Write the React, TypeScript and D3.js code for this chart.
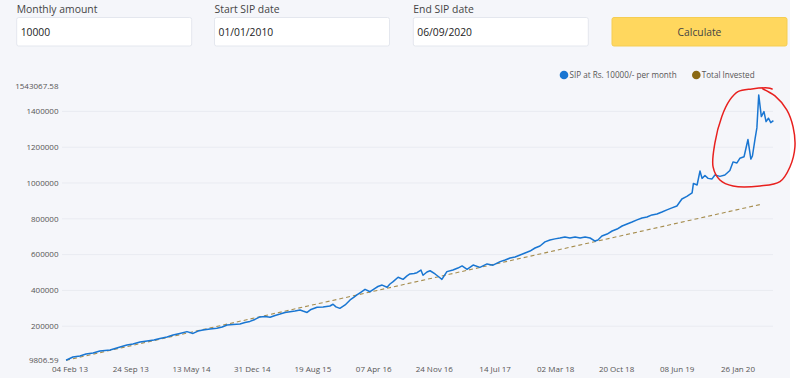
import React from 'react';
import * as d3 from 'd3';

const formLabels = ['Monthly amount', 'Start SIP date', 'End SIP date'];
const formValues = ['10000', '01/01/2010', '06/09/2020'];
const buttonLabel = 'Calculate';
const legendLabels = ['SIP at Rs. 10000/- per month', 'Total Invested'];

const yTickValues = [9806.59, 200000, 400000, 600000, 800000, 1000000, 1200000, 1400000, 1543067.58];
const xTickDates = [
  '2013-02-04', '2013-09-24', '2014-05-13', '2014-12-31', '2015-08-19', '2016-04-07',
  '2016-11-24', '2017-07-14', '2018-03-02', '2018-10-20', '2019-06-08', '2020-01-26',
];

const sipDates = [
  '2013-01-20','2013-02-15','2013-03-14','2013-04-06','2013-05-03','2013-05-29','2013-07-07','2013-08-14',
  '2013-09-09','2013-10-02','2013-10-29','2013-11-25','2013-12-21','2014-01-13','2014-02-09','2014-03-04',
  '2014-03-30','2014-04-26','2014-05-19','2014-06-07','2014-06-26','2014-07-23','2014-08-18','2014-09-07',
  '2014-09-26','2014-10-19','2014-11-14','2014-12-03','2014-12-22','2015-01-10','2015-01-29','2015-02-18',
  '2015-03-09','2015-03-28','2015-04-16','2015-05-05','2015-05-24','2015-06-12','2015-07-01','2015-07-12',
  '2015-07-28','2015-08-12','2015-09-04','2015-09-27','2015-10-23','2015-11-04','2015-11-15','2015-11-30',
  '2015-12-20','2016-01-08','2016-01-23','2016-02-03','2016-02-19','2016-03-05','2016-03-24','2016-04-12',
  '2016-04-23','2016-05-09','2016-05-28','2016-06-08','2016-06-20','2016-07-09','2016-07-28','2016-08-12',
  '2016-08-23','2016-09-08','2016-09-19','2016-10-04','2016-10-12','2016-10-27','2016-11-08','2016-11-27',
  '2016-12-12','2016-12-23','2017-01-11','2017-02-03','2017-02-22','2017-03-10','2017-03-29','2017-04-21',
  '2017-05-17','2017-06-13','2017-07-06','2017-08-02','2017-08-21','2017-09-09','2017-09-28','2017-10-17',
  '2017-11-05','2017-11-24','2017-12-13','2018-01-01','2018-01-20','2018-02-08','2018-02-27','2018-03-18',
  '2018-04-06','2018-04-25','2018-05-15','2018-06-03','2018-06-22','2018-07-11','2018-07-30','2018-08-10',
  '2018-08-25','2018-09-14','2018-10-03','2018-10-22','2018-11-10','2018-11-29','2018-12-18','2019-01-06',
  '2019-01-25','2019-02-13','2019-03-04','2019-03-23','2019-04-11','2019-04-30','2019-05-19','2019-06-07',
  '2019-06-26','2019-07-15','2019-08-04','2019-08-09','2019-08-23','2019-09-03','2019-09-11','2019-09-22',
  '2019-10-04','2019-10-19','2019-10-30','2019-11-18','2019-12-07','2019-12-26','2020-01-07','2020-01-22',
  '2020-02-02','2020-02-18','2020-03-04','2020-03-15','2020-03-21','2020-03-31','2020-04-07','2020-04-14',
  '2020-04-24','2020-05-04','2020-05-12','2020-05-21','2020-05-30','2020-06-09',
];
const sipValues = [
  9806.59, 28000, 34000, 45000, 51000, 62000, 67000, 84000,
  95000, 101000, 112000, 118000, 123000, 132000, 140000, 151000,
  160000, 170000, 160000, 173000, 179000, 185000, 189000, 196000,
  207000, 210000, 213000, 221000, 227000, 238000, 252000, 255000,
  250000, 260000, 268000, 277000, 281000, 285000, 291000, 285000,
  277000, 294000, 306000, 308000, 313000, 323000, 308000, 300000,
  319000, 347000, 363000, 375000, 391000, 406000, 393000, 412000,
  422000, 430000, 418000, 436000, 449000, 474000, 462000, 481000,
  492000, 495000, 499000, 514000, 485000, 503000, 510000, 492000,
  475000, 462000, 505000, 514000, 525000, 537000, 518000, 542000,
  529000, 548000, 541000, 561000, 570000, 581000, 587000, 598000,
  609000, 620000, 637000, 648000, 671000, 682000, 688000, 693000,
  699000, 693000, 699000, 693000, 699000, 693000, 676000, 682000,
  704000, 715000, 732000, 743000, 760000, 771000, 782000, 794000,
  805000, 810000, 822000, 827000, 838000, 850000, 861000, 872000,
  911000, 925000, 945000, 998000, 989000, 1067000, 1026000, 1042000,
  1026000, 1023000, 1045000, 1037000, 1045000, 1070000, 1118000, 1112000,
  1138000, 1147000, 1243000, 1134000, 1151000, 1246000, 1308000, 1492000,
  1371000, 1399000, 1343000, 1362000, 1337000, 1348000,
];

const investedDates = [
  '2013-01-20', '2014-01-20', '2015-01-20', '2016-01-20', '2017-01-20',
  '2018-01-20', '2019-01-20', '2020-01-20', '2020-04-20',
];
const investedValues = [10000, 130000, 250000, 370000, 490000, 610000, 730000, 850000, 880000];

// hand-drawn red annotation loop, in chart data space
const annotationDates = [
  '2020-04-30','2020-06-15','2020-07-30','2020-08-23','2020-08-30','2020-08-11','2020-07-04','2020-04-19',
  '2020-01-07','2019-11-18','2019-10-23','2019-10-30','2019-11-25','2019-12-26','2020-01-26','2020-03-19',
  '2020-05-19','2020-06-04',
];
const annotationValues = [
  1525500, 1486400, 1408200, 1313300, 1201500, 1089800, 1007600, 983600,
  983600, 1017100, 1089800, 1223900, 1370800, 1464100, 1510500, 1525500,
  1531100, 1525500,
];

const FONT = "'Open Sans', 'Noto Sans', sans-serif";
const SIP_COLOR = '#1976d2';
const INV_COLOR = '#8b6914';

export default function App() {
  const parse = d3.utcParse('%Y-%m-%d');
  const x = d3
    .scaleUtc()
    .domain([parse(xTickDates[0]) as Date, parse(xTickDates[xTickDates.length - 1]) as Date])
    .range([70, 738]);
  const y = d3
    .scaleLinear()
    .domain([yTickValues[0], yTickValues[yTickValues.length - 1]])
    .range([360.3, 85.8]);

  const plotLeft = 62;
  const plotRight = 773;

  const sipData = sipDates.map((d, i) => ({ date: parse(d) as Date, value: sipValues[i] }));
  const invData = investedDates.map((d, i) => ({ date: parse(d) as Date, value: investedValues[i] }));
  const annData = annotationDates.map((d, i) => ({ date: parse(d) as Date, value: annotationValues[i] }));

  const line = d3
    .line<{ date: Date; value: number }>()
    .x((d) => x(d.date))
    .y((d) => y(d.value));
  const annLine = d3
    .line<{ date: Date; value: number }>()
    .x((d) => x(d.date))
    .y((d) => y(d.value))
    .curve(d3.curveCatmullRom.alpha(0.5));

  const fmtY = (v: number) => (Number.isInteger(v) ? String(v) : v.toFixed(2));
  const fmtX = d3.utcFormat('%d %b %y');

  const boxes = [16.7, 214.5, 413.3];
  const boxW = 175;

  return (
    <svg
      width={800}
      height={378}
      style={{ position: 'fixed', left: 0, top: 0, display: 'block' }}
      fontFamily={FONT}
    >
      <rect x={0} y={0} width={800} height={378} fill="#ffffff" />
      <rect x={0} y={0} width={790} height={378} fill="#f5f6fa" />

      {/* form */}
      {formLabels.map((l, i) => (
        <g key={l}>
          <text x={boxes[i]} y={12.5} fontSize={10.4} fill="#444">
            {l}
          </text>
          <rect x={boxes[i]} y={17.5} width={boxW} height={28.5} rx={2} fill="#fff" stroke="#e4e7ee" />
          <text x={boxes[i] + 4} y={35.5} fontSize={10.3} fill="#222">
            {formValues[i]}
          </text>
        </g>
      ))}
      <rect x={612} y={17.5} width={175} height={28.5} rx={2} fill="#ffd75e" stroke="#f5cd52" />
      <text x={699.5} y={35.5} fontSize={10.3} fill="#444" textAnchor="middle">
        {buttonLabel}
      </text>

      {/* gridlines */}
      {yTickValues.slice(1, -1).map((t) => (
        <line key={t} x1={plotLeft} x2={plotRight} y1={y(t)} y2={y(t)} stroke="#e9ebf1" strokeWidth={1} />
      ))}

      {/* y tick labels */}
      {yTickValues.map((t) => (
        <text key={t} x={58.5} y={y(t)} dy="0.35em" fontSize={8} fill="#555" textAnchor="end">
          {fmtY(t)}
        </text>
      ))}

      {/* x tick labels */}
      {xTickDates.map((d) => (
        <text key={d} x={x(parse(d) as Date)} y={371.5} fontSize={8} fill="#555" textAnchor="middle">
          {fmtX(parse(d) as Date)}
        </text>
      ))}

      {/* series */}
      <path d={line(invData) || ''} fill="none" stroke={INV_COLOR} strokeOpacity={0.75} strokeWidth={1.1} strokeDasharray="4,3" />
      <path d={line(sipData) || ''} fill="none" stroke={SIP_COLOR} strokeWidth={1.5} strokeLinejoin="round" />

      {/* annotation */}
      <path d={annLine(annData) || ''} fill="none" stroke="#e8201e" strokeWidth={1.5} strokeLinecap="round" />

      {/* legend */}
      <circle cx={564} cy={75} r={4.3} fill={SIP_COLOR} />
      <text x={569.5} y={77.8} fontSize={8.1} fill="#555">
        {legendLabels[0]}
      </text>
      <circle cx={696.3} cy={75} r={4.3} fill={INV_COLOR} />
      <text x={701.7} y={77.8} fontSize={8.1} fill="#555">
        {legendLabels[1]}
      </text>
    </svg>
  );
}
